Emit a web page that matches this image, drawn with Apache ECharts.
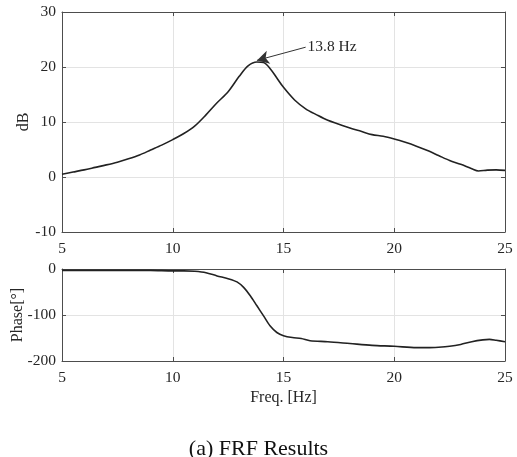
<!DOCTYPE html>
<html>
<head>
<meta charset="utf-8">
<script src="https://cdn.jsdelivr.net/npm/echarts@6/dist/echarts.min.js"></script>
<style>
  html, body { margin: 0; padding: 0; background: #fff; }
  #chart { width: 517px; height: 457px; }
</style>
</head>
<body>
<div id="chart"></div>
<script>
// Magnitude response (dB) against frequency (Hz)
const magFreq = [5.0, 5.5, 6.0, 6.5, 7.0, 7.5, 8.0, 8.5, 9.0, 9.5, 10.0, 10.5, 11.0, 11.5, 12.0, 12.5, 13.0, 13.4, 13.8, 14.1, 14.4, 14.7, 15.0, 15.5, 16.0, 16.5, 17.0, 17.5, 18.0, 18.5, 19.0, 19.5, 20.0, 20.5, 21.0, 21.5, 22.0, 22.5, 23.0, 23.5, 23.8, 24.2, 24.6, 25.0];
const magDb   = [0.5, 0.9, 1.3, 1.75, 2.2, 2.7, 3.3, 4.0, 4.9, 5.8, 6.8, 7.9, 9.3, 11.3, 13.5, 15.5, 18.3, 20.2, 20.9, 20.8, 19.7, 18.0, 16.3, 14.0, 12.4, 11.3, 10.3, 9.6, 8.9, 8.3, 7.7, 7.4, 6.9, 6.3, 5.6, 4.8, 3.9, 3.0, 2.3, 1.5, 1.1, 1.25, 1.3, 1.2];

// Phase response (degrees) against frequency (Hz)
const phaseFreq = [5, 7, 9, 10, 10.5, 11, 11.5, 12, 12.5, 12.9, 13.2, 13.5, 13.8, 14.1, 14.4, 14.7, 15.0, 15.4, 15.8, 16.2, 17.0, 18.0, 19.0, 20.0, 21.0, 21.5, 22.0, 22.5, 23.0, 23.5, 24.0, 24.3, 24.6, 25.0];
const phaseDeg  = [-3, -3, -3, -4, -4, -5, -8, -15, -21, -28, -40, -58, -80, -102, -124, -138, -145, -149, -151, -156, -158, -162, -166, -168, -171, -171, -170, -168, -164, -158, -154, -153, -155, -158];

// Axis titles
const magAxisTitle = 'dB';
const phaseAxisTitle = 'Phase[°]';
const freqAxisTitle = 'Freq. [Hz]';

// Resonance annotation: arrow from label to peak
const peakLabel = '13.8 Hz';
const peakPoint = [13.8, 21.2];
const labelPoint = [16.0, 23.6];

const FONT = 'Liberation Serif';
const axisColor = '#4d4d4d';
const textColor = '#262626';
const gridLineColor = '#e3e3e3';
const tickFont = 15.5;
const nameFont = 16;

function xAxisBase(gridIndex, showLabels, name) {
  return {
    type: 'value', gridIndex, min: 5, max: 25, interval: 5,
    axisLine: { show: true, onZero: false, lineStyle: { color: axisColor, width: 1 } },
    axisTick: { show: true, inside: true, length: 4, lineStyle: { color: axisColor } },
    axisLabel: { show: showLabels, color: textColor, fontFamily: FONT, fontSize: tickFont, margin: 9 },
    splitLine: { show: showLabels, lineStyle: { color: gridLineColor, width: 1 } },
    name: name || '', nameLocation: 'middle', nameGap: 29,
    nameTextStyle: { color: textColor, fontFamily: FONT, fontSize: nameFont }
  };
}
function yAxisBase(gridIndex, min, max, interval, showLabels) {
  return {
    type: 'value', gridIndex, min, max, interval,
    axisLine: { show: true, onZero: false, lineStyle: { color: axisColor, width: 1 } },
    axisTick: { show: true, inside: true, length: 4, lineStyle: { color: axisColor } },
    axisLabel: { show: showLabels, color: textColor, fontFamily: FONT, fontSize: tickFont, margin: 6 },
    splitLine: { show: showLabels, lineStyle: { color: gridLineColor, width: 1 } }
  };
}

// Rotated y-axis title placed left of a panel
function sideTitle(text, cx, cy) {
  return {
    type: 'text', x: cx, y: cy, rotation: Math.PI / 2, silent: true,
    style: {
      text, fill: textColor, font: nameFont + 'px "' + FONT + '"',
      align: 'center', verticalAlign: 'middle'
    }
  };
}

const chart = echarts.init(document.getElementById('chart'), null, { renderer: 'canvas' });

chart.setOption({
  animation: false,
  backgroundColor: '#ffffff',
  title: {
    text: '(a) FRF Results',
    left: 'center', top: 433,
    textStyle: { color: '#111', fontFamily: FONT, fontSize: 22, fontWeight: 'normal' }
  },
  graphic: [
    sideTitle(magAxisTitle, 24, 122),
    sideTitle(phaseAxisTitle, 18, 315)
  ],
  grid: [
    { left: 62, top: 12, width: 443, height: 220, containLabel: false, outerBoundsMode: 'none' },
    { left: 62, top: 269, width: 443, height: 92, containLabel: false, outerBoundsMode: 'none' }
  ],
  xAxis: [
    xAxisBase(0, true),
    Object.assign(xAxisBase(0, false), { position: 'top' }),
    xAxisBase(1, true, freqAxisTitle),
    Object.assign(xAxisBase(1, false), { position: 'top' })
  ],
  yAxis: [
    yAxisBase(0, -10, 30, 10, true),
    Object.assign(yAxisBase(0, -10, 30, 10, false), { position: 'right' }),
    yAxisBase(1, -200, 0, 100, true),
    Object.assign(yAxisBase(1, -200, 0, 100, false), { position: 'right' })
  ],
  series: [
    {
      type: 'line', xAxisIndex: 0, yAxisIndex: 0,
      data: magFreq.map((f, i) => [f, magDb[i]]),
      smooth: 0.3, showSymbol: false,
      lineStyle: { color: '#222', width: 1.6 },
      markLine: {
        silent: true,
        symbol: ['none', 'arrow'], symbolSize: [10, 12],
        lineStyle: { color: '#333', width: 1, type: 'solid' },
        label: {
          show: true, position: 'start', formatter: peakLabel,
          color: textColor, fontFamily: FONT, fontSize: tickFont, distance: 2
        },
        data: [[
          { coord: labelPoint },
          { coord: peakPoint }
        ]]
      }
    },
    {
      type: 'line', xAxisIndex: 2, yAxisIndex: 2,
      data: phaseFreq.map((f, i) => [f, phaseDeg[i]]),
      smooth: 0.3, showSymbol: false,
      lineStyle: { color: '#222', width: 1.6 }
    }
  ]
});
</script>
</body>
</html>
